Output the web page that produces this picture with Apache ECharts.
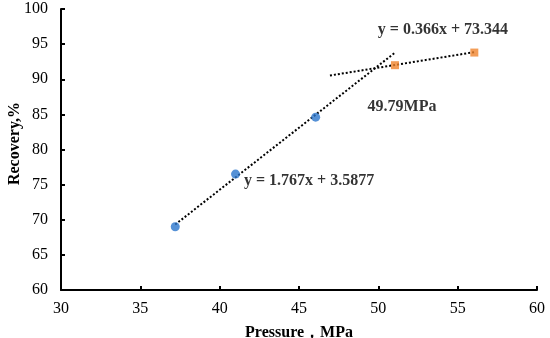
<!DOCTYPE html>
<html><head><meta charset="utf-8">
<script src="https://cdn.jsdelivr.net/npm/echarts@6/dist/echarts.min.js"></script>
<style>html,body{margin:0;padding:0;background:#fff}#c{width:550px;height:338px}</style>
</head><body><div id="c"></div>
<script>
var xTicks = [30, 35, 40, 45, 50, 55, 60];
var yTicks = [60, 65, 70, 75, 80, 85, 90, 95, 100];
var lowPressure = [[37.2, 69.0], [41.0, 76.5], [46.05, 84.6]];
var highPressure = [[51.05, 92.0], [56.05, 93.8]];
var trend1 = [[37.2, 69.32], [51.05, 93.79]];
var trend2 = [[46.95, 90.53], [56.05, 93.86]];
var labels = [
  {text: 'y = 0.366x + 73.344', x: 54.07, y: 97.0, align: 'center'},
  {text: '49.79MPa', x: 51.49, y: 86.05, align: 'center'},
  {text: 'y = 1.767x + 3.5877', x: 41.53, y: 75.5, align: 'left'}
];
var serif = '"Liberation Serif","Times New Roman",serif';
var chart = echarts.init(document.getElementById('c'));
chart.setOption({
  animation: false,
  grid: {left: 61, right: 13, top: 9, bottom: 48, containLabel: false, outerBoundsMode: 'none'},
  xAxis: {
    type: 'value', min: xTicks[0], max: xTicks[xTicks.length-1], interval: 5,
    name: 'Pressure，MPa', nameLocation: 'middle', nameGap: 35,
    nameTextStyle: {fontFamily: serif, fontWeight: 'bold', fontSize: 16, color: '#000'},
    axisLine: {lineStyle: {color: '#000', width: 2}},
    axisTick: {inside: true, length: 4, lineStyle: {color: '#000', width: 2}},
    axisLabel: {fontFamily: serif, fontSize: 16, color: '#000', margin: 11},
    splitLine: {show: false}
  },
  yAxis: {
    type: 'value', min: yTicks[0], max: yTicks[yTicks.length-1], interval: 5,
    name: 'Recovery,%', nameLocation: 'middle', nameGap: 38, nameMoveOverlap: false,
    nameTextStyle: {fontFamily: serif, fontWeight: 'bold', fontSize: 16, color: '#000', padding: [0, 0, 0, 12]},
    axisLine: {lineStyle: {color: '#000', width: 2}},
    axisTick: {inside: true, length: 4, lineStyle: {color: '#000', width: 2}},
    axisLabel: {fontFamily: serif, fontSize: 16, color: '#000', margin: 13},
    splitLine: {show: false}
  },
  series: [
    {type: 'line', data: trend1, symbol: 'none', lineStyle: {color: '#000', width: 2, type: [2, 2]}, z: 2},
    {type: 'line', data: trend2, symbol: 'none', lineStyle: {color: '#000', width: 2, type: [2, 2]}, z: 2},
    {type: 'scatter', data: lowPressure, symbol: 'circle', symbolSize: 9, itemStyle: {color: '#2A76CC'}, z: 3},
    {type: 'scatter', data: highPressure, symbol: 'rect', symbolSize: 8, itemStyle: {color: '#F0852D'}, z: 3},
    {type: 'scatter', symbolSize: 0, silent: true, z: 4,
     data: labels.map(function(l){return {value: [l.x, l.y], label: {show: true, position: 'inside', formatter: l.text, align: l.align, verticalAlign: 'middle', fontFamily: serif, fontWeight: 'bold', fontSize: 16, color: '#000'}};})}
  ]
});
</script></body></html>
